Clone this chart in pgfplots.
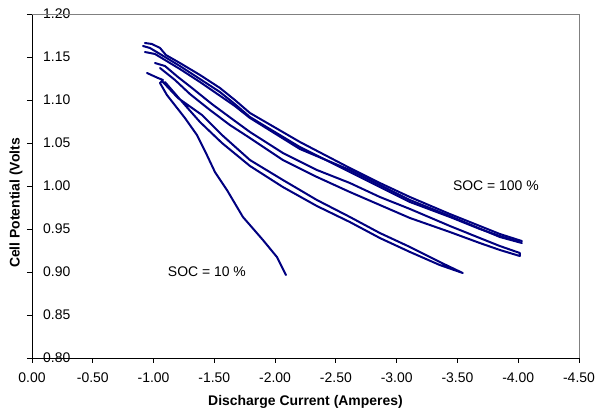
\documentclass[border=0pt]{standalone}
\usepackage{fontspec}
\setmainfont{Liberation Sans}
\usepackage{pgfplots}
\pgfplotsset{compat=1.18}
\definecolor{curve}{RGB}{0,0,128}
\definecolor{frame}{RGB}{128,128,128}
\pgfplotsset{socline/.style={draw=curve, solid, line width=2bp, line join=round, line cap=round, mark=none}}

\begin{document}
\begin{tikzpicture}
\path[use as bounding box] (-32bp,-53bp) rectangle (566bp,358bp);
\begin{axis}[
    at={(0,0)}, anchor=south west,
    scale only axis,
    width=547bp, height=344bp,
    xmin=-4.5, xmax=0, x dir=reverse,
    ymin=0.8, ymax=1.2,
    axis x line*=bottom, axis y line*=left,
    axis line style={-, black, line width=0.8bp},
    xtick={0,-0.5,-1,-1.5,-2,-2.5,-3,-3.5,-4,-4.5},
    xticklabels={0.00,-0.50,-1.00,-1.50,-2.00,-2.50,-3.00,-3.50,-4.00,-4.50},
    ytick={0.8,0.85,0.9,0.95,1,1.05,1.1,1.15,1.2},
    yticklabels={0.80,0.85,0.90,0.95,1.00,1.05,1.10,1.15,1.20},
    tick align=outside, major tick length=5bp,
    tick style={black, line width=0.8bp},
    tick label style={font=\fontsize{14}{16}\selectfont},
    xticklabel style={inner sep=0pt, yshift=-10bp},
    yticklabel style={anchor=west, inner sep=0pt, xshift=16bp},
    xlabel={Discharge Current (Amperes)},
    ylabel={Cell Potential (Volts},
    label style={font=\fontsize{14}{16}\selectfont\bfseries},
    xlabel style={at={(axis description cs:0.5,0)}, anchor=center, yshift=-44bp},
    ylabel style={at={([xshift=-16bp]axis description cs:0,0.4506)}, anchor=center},
    clip=false,
]
% top bundle
\addplot[socline] coordinates {(-0.929,1.1663) (-0.987,1.1651) (-1.053,1.1605) (-1.102,1.1523) (-1.217,1.1430) (-1.382,1.1291) (-1.546,1.1140) (-1.669,1.1000) (-1.793,1.0849) (-2.204,1.0512) (-2.615,1.0209) (-2.862,1.0035) (-3.109,0.9872) (-3.438,0.9674) (-3.684,0.9535) (-3.849,0.9442) (-4.030,0.9360)};
\addplot[socline] coordinates {(-0.913,1.1628) (-0.970,1.1605) (-1.053,1.1535) (-1.217,1.1395) (-1.382,1.1244) (-1.546,1.1093) (-1.669,1.0953) (-1.793,1.0802) (-2.204,1.0453) (-2.615,1.0163) (-3.109,0.9814) (-3.438,0.9640) (-3.684,0.9500) (-3.849,0.9419) (-4.013,0.9349)};
\addplot[socline] coordinates {(-0.929,1.1558) (-1.012,1.1535) (-1.094,1.1465) (-1.217,1.1360) (-1.382,1.1209) (-1.669,1.0930) (-1.793,1.0791) (-2.204,1.0430) (-2.615,1.0186) (-3.109,0.9837) (-3.438,0.9651) (-3.849,0.9407) (-4.030,0.9337)};
% middle loop
\addplot[socline] coordinates {(-1.012,1.1430) (-1.094,1.1395) (-1.201,1.1267) (-1.316,1.1140) (-1.480,1.0953) (-1.669,1.0756) (-1.793,1.0628) (-2.064,1.0384) (-2.344,1.0186) (-2.615,1.0035) (-2.862,0.9872) (-3.109,0.9733) (-3.438,0.9535) (-3.684,0.9395) (-3.849,0.9302) (-4.013,0.9221)
 (-4.013,0.9186) (-3.849,0.9256) (-3.684,0.9337) (-3.438,0.9465) (-3.109,0.9628) (-2.862,0.9779) (-2.615,0.9930) (-2.344,1.0105) (-2.064,1.0302) (-1.793,1.0558) (-1.628,1.0709) (-1.464,1.0884) (-1.299,1.1070) (-1.176,1.1233) (-1.094,1.1326) (-1.053,1.1372)};
% lower loop
\addplot[socline] coordinates {(-1.069,1.1221) (-1.201,1.1023) (-1.398,1.0826) (-1.563,1.0593) (-1.793,1.0302) (-2.064,1.0070) (-2.344,0.9837) (-2.615,0.9640) (-2.862,0.9453) (-3.109,0.9291) (-3.355,0.9116) (-3.544,0.8988)
 (-3.355,0.9081) (-3.109,0.9233) (-2.862,0.9395) (-2.615,0.9581) (-2.344,0.9767) (-2.064,0.9988) (-1.793,1.0233) (-1.563,1.0500) (-1.382,1.0744) (-1.258,1.0942) (-1.151,1.1116) (-1.094,1.1209)};
% SOC = 10 %
\addplot[socline] coordinates {(-0.946,1.1314) (-1.036,1.1256) (-1.077,1.1233) (-1.053,1.1198) (-1.110,1.1058) (-1.258,1.0791) (-1.357,1.0593) (-1.439,1.0360) (-1.505,1.0163) (-1.604,0.9953) (-1.735,0.9640) (-1.900,0.9372) (-2.015,0.9174) (-2.089,0.8965)};
\draw[frame, line width=0.8bp] (axis description cs:0,1) -- (axis description cs:1,1) -- (axis description cs:1,0);
\node[font=\fontsize{14}{16}\selectfont] at (axis cs:-3.816,1.0) {SOC = 100 \%};
\node[font=\fontsize{14}{16}\selectfont] at (axis cs:-1.439,0.90) {SOC = 10 \%};
\end{axis}
\end{tikzpicture}
\end{document}
